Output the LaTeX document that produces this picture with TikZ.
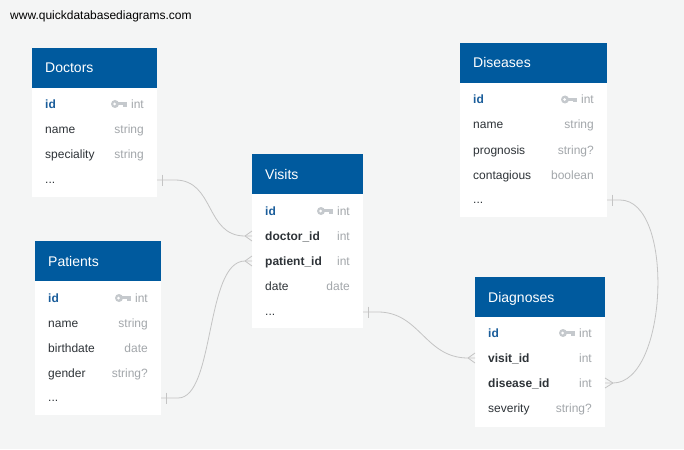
\documentclass[tikz,border=0pt]{standalone}
\usepackage{fontspec}
\setmainfont{Liberation Sans}
\usetikzlibrary{calc}
\definecolor{bgc}{HTML}{F4F5F5}
\definecolor{hdrc}{HTML}{005A9E}
\definecolor{fldc}{HTML}{2E3338}
\definecolor{idc}{HTML}{1B5E9B}
\definecolor{typc}{HTML}{A3A7AB}
\definecolor{keyc}{HTML}{C5C9CD}
\definecolor{lnc}{HTML}{C4C4C4}
\tikzset{
 tbody/.style={fill=white, draw=none, anchor=north west, inner sep=0, outer sep=0},
 thead/.style={fill=hdrc, draw=none, anchor=north west, inner sep=0, outer sep=0, minimum height=40pt},
 htxt/.style={text=white, font=\fontsize{14}{16}\selectfont, anchor=base west, inner sep=0},
 ftxt/.style={text=fldc, font=\fontsize{12}{14}\selectfont, anchor=base west, inner sep=0},
 fbold/.style={ftxt, font=\fontsize{12}{14}\selectfont\bfseries},
 fid/.style={fbold, text=idc},
 ttxt/.style={text=typc, font=\fontsize{12}{14}\selectfont, anchor=base east, inner sep=0},
 conn/.style={draw=lnc, line width=0.8pt},
}
% row: [style]{table}{idx}{xl}{xr}{y}{field}{type}
\newcommand{\erow}[8][ftxt]{%
 \node[#1] (#2-f#3) at ({#4+13},{#6+4.5}) {#7};
 \node[ttxt] (#2-t#3) at ({#5-13},{#6+4.5}) {#8};
}
% key icon: {xr}{y}
\newcommand{\ekey}[2]{%
 \fill[keyc] ({#1-29},{#2}) circle (4pt);
 \fill[white] ({#1-29.5},{#2}) circle (1.5pt);
 \fill[keyc] ({#1-26},{#2-1.8}) rectangle ({#1-17},{#2+1.2});
 \fill[keyc] ({#1-21.5},{#2+1.2}) rectangle ({#1-19.5},{#2+3});
 \fill[keyc] ({#1-19},{#2+1.2}) rectangle ({#1-17},{#2+3});
}
\newcommand{\ebar}[2]{\draw[conn] ($(#1)+(#2,-5.5)$) -- ($(#1)+(#2,5.5)$);}
\newcommand{\ecrow}[2]{\draw[conn] ($(#1)+(#2,0)$) -- ($(#1)+(0,-5)$) ($(#1)+(#2,0)$) -- ($(#1)+(0,5)$);}
\begin{document}
\begin{tikzpicture}[x=1pt,y=-1pt]
\fill[bgc] (0,0) rectangle (684,449);
\useasboundingbox (0,0) rectangle (684,449);
\node[anchor=base west, inner sep=0, font=\fontsize{12}{14}\selectfont, text=black] (site) at (10,20) {www.quickdatabasediagrams.com};

% Doctors
\node[tbody, minimum width=125pt, minimum height=149pt] (doctors) at (32,48) {};
\node[thead, minimum width=125pt] (doctors-h) at (32,48) {};
\node[htxt] (doctors-n) at (45,73) {Doctors};
\erow[fid]{doctors}{1}{32}{157}{104}{id}{int}
\ekey{144}{104}
\erow{doctors}{2}{32}{157}{129}{name}{string}
\erow{doctors}{3}{32}{157}{154}{speciality}{string}
\node[ftxt] (doctors-f4) at (45,183.5) {...};

% Visits
\node[tbody, minimum width=111pt, minimum height=174pt] (visits) at (252,154) {};
\node[thead, minimum width=111pt] (visits-h) at (252,154) {};
\node[htxt] (visits-n) at (265,179) {Visits};
\erow[fid]{visits}{1}{252}{363}{211}{id}{int}
\ekey{350}{211}
\erow[fbold]{visits}{2}{252}{363}{236}{doctor\_id}{int}
\erow[fbold]{visits}{3}{252}{363}{261}{patient\_id}{int}
\erow{visits}{4}{252}{363}{286}{date}{date}
\node[ftxt] (visits-f5) at (265,315) {...};

% Patients
\node[tbody, minimum width=126pt, minimum height=174pt] (patients) at (35,241) {};
\node[thead, minimum width=126pt] (patients-h) at (35,241) {};
\node[htxt] (patients-n) at (48,266) {Patients};
\erow[fid]{patients}{1}{35}{161}{298}{id}{int}
\ekey{148}{298}
\erow{patients}{2}{35}{161}{323}{name}{string}
\erow{patients}{3}{35}{161}{348}{birthdate}{date}
\erow{patients}{4}{35}{161}{373}{gender}{string?}
\node[ftxt] (patients-f5) at (48,401.5) {...};

% Diseases
\node[tbody, minimum width=147pt, minimum height=174pt] (diseases) at (460,43) {};
\node[thead, minimum width=147pt] (diseases-h) at (460,43) {};
\node[htxt] (diseases-n) at (473,68) {Diseases};
\erow[fid]{diseases}{1}{460}{607}{99.5}{id}{int}
\ekey{594}{99.5}
\erow{diseases}{2}{460}{607}{124.5}{name}{string}
\erow{diseases}{3}{460}{607}{150}{prognosis}{string?}
\erow{diseases}{4}{460}{607}{175}{contagious}{boolean}
\node[ftxt] (diseases-f5) at (473,203.5) {...};

% Diagnoses
\node[tbody, minimum width=130pt, minimum height=150pt] (diagnoses) at (475,277) {};
\node[thead, minimum width=130pt] (diagnoses-h) at (475,277) {};
\node[htxt] (diagnoses-n) at (488,302) {Diagnoses};
\erow[fid]{diagnoses}{1}{475}{605}{333}{id}{int}
\ekey{592}{333}
\erow[fbold]{diagnoses}{2}{475}{605}{358}{visit\_id}{int}
\erow[fbold]{diagnoses}{3}{475}{605}{383}{disease\_id}{int}
\erow{diagnoses}{4}{475}{605}{408}{severity}{string?}

% connector endpoints
\coordinate (c1s) at (157,180);
\coordinate (c1e) at (252,236);
\coordinate (c2s) at (161,398);
\coordinate (c2e) at (252,261);
\coordinate (c3s) at (363,312);
\coordinate (c3e) at (475,358);
\coordinate (c4s) at (607,200);
\coordinate (c4e) at (605,383);

\draw[conn] (c1s) -- ++(18,0) .. controls +(40,0) and +(-40,0) .. ($(c1e)+(-7,0)$) -- (c1e);
\ebar{c1s}{5}
\ecrow{c1e}{-7}

\draw[conn] (c2s) -- ++(17,0) .. controls +(37,0) and +(-40,0) .. ($(c2e)+(-7,0)$) -- (c2e);
\ebar{c2s}{5}
\ecrow{c2e}{-7}

\draw[conn] (c3s) -- ++(15,0) .. controls +(42,0) and +(-43,0) .. ($(c3e)+(-7,0)$) -- (c3e);
\ebar{c3s}{5}
\ecrow{c3e}{-7}

\draw[conn] (c4s) -- ++(13,0) .. controls +(55,0) and +(55,0) .. ($(c4e)+(8,0)$) -- (c4e);
\ebar{c4s}{5}
\ecrow{c4e}{8}
\end{tikzpicture}
\end{document}
